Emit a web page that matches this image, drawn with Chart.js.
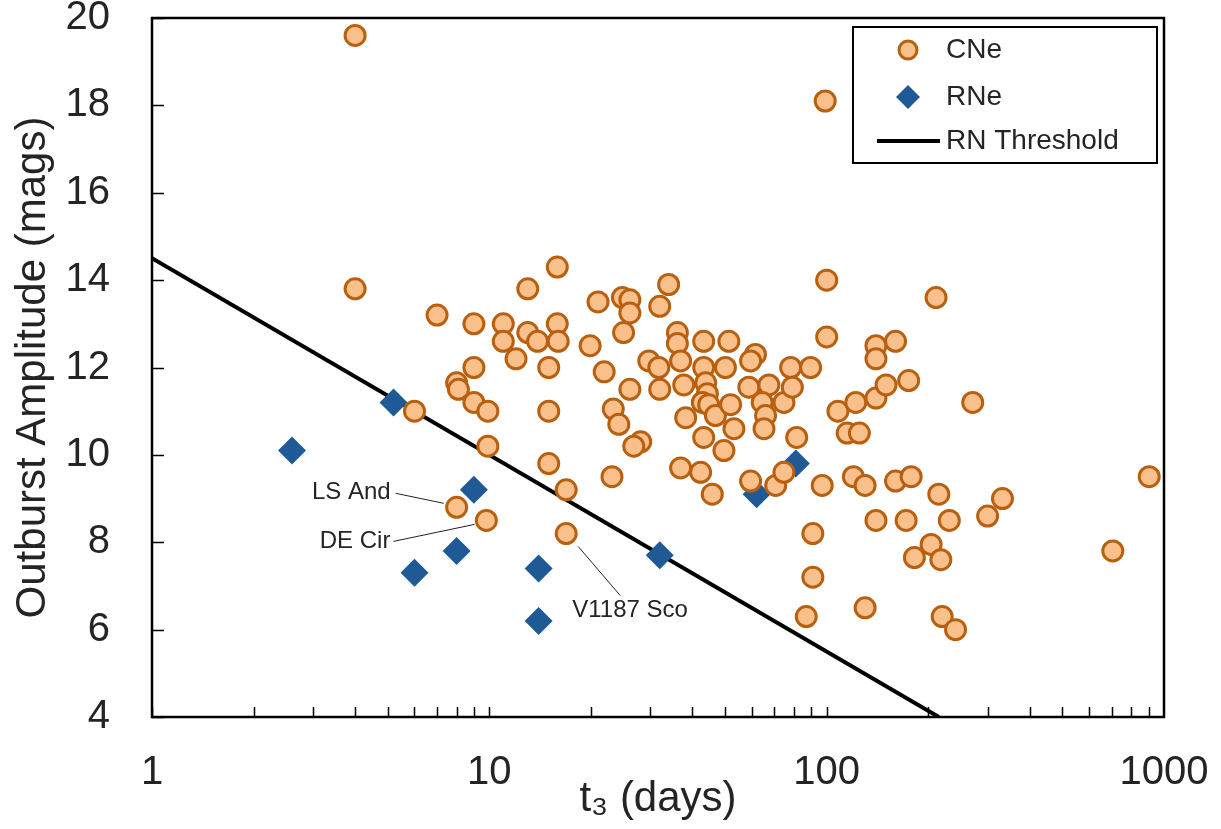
<!DOCTYPE html>
<html>
<head>
<meta charset="utf-8">
<title>Outburst amplitude vs t3</title>
<script src="https://cdn.jsdelivr.net/npm/chart.js@4.4.1/dist/chart.umd.min.js"></script>
<style>
  html, body { margin: 0; padding: 0; background: #fff; }
  #wrap { width: 1221px; height: 829px; }
</style>
</head>
<body>
<div id="wrap"><canvas id="novaChart"></canvas></div>
<script>
// Classical novae (CNe): decline time t3 in days and outburst amplitude in mags
const cneT3 = [
  4.0, 4.0, 99, 7.0, 15.9, 13.0, 9.0, 11.0, 13.0, 11.0,
  13.9, 15.9, 16.0, 12.0, 15.0, 9.0, 8.0, 8.1, 9.0, 9.9,
  15.0, 6.0, 9.9, 15.0, 23.1, 16.9, 8.0, 9.8, 16.9, 19.9,
  21.0, 24.8, 26.1, 26.1, 25.0, 34.0, 32.0, 21.9, 26.1, 23.3,
  24.2, 28.1, 26.8, 36.1, 36.1, 43.2, 51.3, 61.5, 59.5, 78.2,
  29.7, 31.8, 36.9, 43.2, 50.1, 37.7, 32.0, 43.8, 44.3, 42.8,
  44.7, 46.8, 51.9, 53.1, 38.2, 43.2, 49.6, 58.8, 67.4, 64.4,
  74.7, 65.9, 65.2, 79.1, 81.5, 36.9, 42.3, 45.8, 59.5, 70.6,
  74.7, 100, 211, 100, 140, 160, 140, 89.6, 108, 122,
  140, 150, 175, 271, 115, 125, 97, 120, 130, 160,
  178, 215, 332, 300, 140, 172, 231, 91, 904, 91,
  87, 130, 705, 204, 182, 218, 220, 241
];
const cneAmp = [
  19.6, 13.8, 18.1, 13.2, 14.3, 13.8, 13.0, 13.0, 12.8, 12.6,
  12.6, 13.0, 12.6, 12.2, 12.0, 12.0, 11.65, 11.5, 11.2, 11.0,
  11.0, 11.0, 10.2, 9.8, 9.5, 9.2, 8.8, 8.5, 8.2, 12.5,
  13.5, 13.6, 13.55, 13.25, 12.8, 13.9, 13.4, 11.9, 11.5, 11.05,
  10.7, 10.3, 10.2, 12.8, 12.55, 12.6, 12.6, 12.3, 12.15, 12.0,
  12.15, 12.0, 12.15, 12.0, 12.0, 11.6, 11.5, 11.65, 11.4, 11.2,
  11.15, 10.9, 11.15, 10.6, 10.85, 10.4, 10.1, 11.55, 11.6, 11.2,
  11.2, 10.9, 10.6, 11.55, 10.4, 9.7, 9.6, 9.1, 9.4, 9.3,
  9.6, 14.0, 13.6, 12.7, 12.5, 12.6, 12.2, 12.0, 11.0, 11.2,
  11.3, 11.6, 11.7, 11.2, 10.5, 10.5, 9.3, 9.5, 9.3, 9.4,
  9.5, 9.1, 9.0, 8.6, 8.5, 8.5, 8.5, 8.2, 9.5, 7.2,
  6.3, 6.5, 7.8, 7.95, 7.65, 7.6, 6.3, 6.0
];

// Recurrent novae (RNe)
const rneT3 = [2.6, 5.2, 6.0, 8.0, 9.0, 14.0, 14.0, 32, 62, 81];
const rneAmp = [10.1, 11.2, 7.3, 7.8, 9.2, 7.4, 6.2, 7.7, 9.1, 9.8];

// RN threshold: amplitude = 14.5 - 4.5 log10(t3), cut at the 4 mag floor
const thresholdT3 = [1, 215];
const thresholdAmp = [14.5, 4];

// Named classical novae (indices into the CNe arrays)
const namedNovae = ['LS And', 'DE Cir', 'V1187 Sco'];
const namedIdx = [26, 27, 28];

// Axis ticks
const xLabelValues = [1, 10, 100, 1000];
const yTickValues = [4, 6, 8, 10, 12, 14, 16, 18, 20];

const FONT = "'Liberation Sans', Arial, sans-serif";
const TEXT = '#242424';
const CNE_FILL = 'rgb(250, 192, 140)';
const CNE_EDGE = 'rgb(184, 96, 16)';
const RNE_FILL = 'rgb(31, 90, 150)';

const toPoints = (xs, ys) => xs.map((x, i) => ({ x: x, y: ys[i] }));

// box around the plot plus inward tick marks on the left and bottom axes
const frameTicks = {
  id: 'frameTicks',
  afterDraw(chart) {
    const { ctx, chartArea: a, scales } = chart;
    const xs = scales.x, ys = scales.y;
    ctx.save();
    ctx.strokeStyle = '#000';
    ctx.lineWidth = 1.5;
    ctx.beginPath();
    yTickValues.forEach(v => {
      const py = Math.round(ys.getPixelForValue(v)) + 0.5;
      ctx.moveTo(a.left, py);
      ctx.lineTo(a.left + 12, py);
    });
    for (let dec = 1; dec < 1000; dec *= 10) {
      for (let k = 1; k <= 9; k++) {
        const px = Math.round(xs.getPixelForValue(k * dec)) + 0.5;
        ctx.moveTo(px, a.bottom);
        ctx.lineTo(px, a.bottom - 10);
      }
    }
    ctx.stroke();
    ctx.lineWidth = 2.5;
    ctx.strokeRect(a.left, a.top, a.right - a.left, a.bottom - a.top);
    ctx.restore();
  }
};

// names next to a few novae with thin leader lines
const noveLabels = {
  id: 'noveLabels',
  afterDatasetsDraw(chart) {
    const { ctx, scales } = chart;
    // [text anchor dx, dy, align, line from dx, dy, line to dx, dy]
    const offs = [
      [-66, -15, 'right', -61, -14, -13, -4],
      [-96, 21, 'right', -93, 21, -12, 4],
      [6, 77, 'left', 12, 13, 54, 62]
    ];
    ctx.save();
    ctx.font = '24px ' + FONT;
    ctx.fillStyle = TEXT;
    ctx.strokeStyle = '#222';
    ctx.lineWidth = 1;
    ctx.textBaseline = 'middle';
    namedIdx.forEach((idx, i) => {
      const px = scales.x.getPixelForValue(cneT3[idx]);
      const py = scales.y.getPixelForValue(cneAmp[idx]);
      const o = offs[i];
      ctx.textAlign = o[2];
      ctx.fillText(namedNovae[i], px + o[0], py + o[1]);
      ctx.beginPath();
      ctx.moveTo(px + o[3], py + o[4]);
      ctx.lineTo(px + o[5], py + o[6]);
      ctx.stroke();
    });
    ctx.restore();
  }
};

// boxed legend in the top right corner
const boxLegend = {
  id: 'boxLegend',
  afterDraw(chart) {
    const { ctx } = chart;
    const ds = chart.data.datasets;
    const left = 853, top = 27, w = 304, h = 136;
    const rows = [50, 97, 141];
    ctx.save();
    ctx.fillStyle = '#fff';
    ctx.fillRect(left, top, w, h);
    ctx.strokeStyle = '#000';
    ctx.lineWidth = 2;
    ctx.strokeRect(left, top, w, h);
    ds.forEach((d, i) => {
      const y = rows[i];
      if (d.showLine) {
        ctx.strokeStyle = d.borderColor;
        ctx.lineWidth = d.borderWidth;
        ctx.beginPath();
        ctx.moveTo(877, y);
        ctx.lineTo(940, y);
        ctx.stroke();
      } else {
        ctx.fillStyle = d.backgroundColor;
        ctx.strokeStyle = d.borderColor;
        ctx.lineWidth = d.borderWidth;
        Chart.helpers.drawPoint(ctx, {
          pointStyle: d.pointStyle,
          radius: d.pointStyle === 'rectRot' ? 12 : 9,
          borderWidth: d.borderWidth,
          rotation: 0
        }, 908, y);
      }
      ctx.fillStyle = TEXT;
      ctx.font = '28px ' + FONT;
      ctx.textAlign = 'left';
      ctx.textBaseline = 'middle';
      ctx.fillText(d.label, 946, y);
    });
    ctx.restore();
  }
};

new Chart(document.getElementById('novaChart').getContext('2d'), {
  type: 'scatter',
  data: {
    datasets: [
      {
        label: 'CNe',
        data: toPoints(cneT3, cneAmp),
        pointStyle: 'circle',
        pointRadius: 10,
        borderWidth: 3,
        backgroundColor: CNE_FILL,
        borderColor: CNE_EDGE,
        order: 0
      },
      {
        label: 'RNe',
        data: toPoints(rneT3, rneAmp),
        pointStyle: 'rectRot',
        pointRadius: 14,
        borderWidth: 0,
        backgroundColor: RNE_FILL,
        borderColor: RNE_FILL,
        order: 1
      },
      {
        label: 'RN Threshold',
        data: toPoints(thresholdT3, thresholdAmp),
        showLine: true,
        pointRadius: 0,
        borderWidth: 4,
        borderColor: '#000',
        backgroundColor: '#000',
        order: 2
      }
    ]
  },
  options: {
    responsive: true,
    maintainAspectRatio: false,
    animation: false,
    layout: { padding: { top: 18, right: 57, left: 0, bottom: 0 } },
    plugins: {
      legend: { display: false },
      tooltip: { enabled: false }
    },
    scales: {
      x: {
        type: 'logarithmic',
        min: 1,
        max: 1000,
        grid: { display: false, drawTicks: false },
        border: { display: false },
        afterBuildTicks(scale) {
          scale.ticks = xLabelValues.map(v => ({ value: v }));
        },
        afterFit(scale) {
          scale.height = 112;
          scale.paddingLeft = 0;
          scale.paddingRight = 0;
        },
        ticks: {
          autoSkip: false,
          maxRotation: 0,
          padding: 32,
          color: TEXT,
          font: { family: FONT, size: 40 },
          callback: v => String(v)
        },
        title: {
          display: true,
          text: ['t\u2083 (days)'],
          color: TEXT,
          font: { family: FONT, size: 42 },
          padding: { top: 0, bottom: 4 }
        }
      },
      y: {
        min: 4,
        max: 20,
        grid: { display: false, drawTicks: false },
        border: { display: false },
        afterBuildTicks(scale) {
          scale.ticks = yTickValues.map(v => ({ value: v }));
        },
        afterFit(scale) {
          scale.width = 152;
          scale.paddingTop = 0;
          scale.paddingBottom = 0;
        },
        ticks: {
          padding: 42,
          color: TEXT,
          font: { family: FONT, size: 40, lineHeight: 1 }
        },
        title: {
          display: true,
          text: 'Outburst Amplitude (mags)',
          color: TEXT,
          font: { family: FONT, size: 42 },
          padding: { top: 8, bottom: 0 }
        }
      }
    }
  },
  plugins: [frameTicks, noveLabels, boxLegend]
});
</script>
</body>
</html>
